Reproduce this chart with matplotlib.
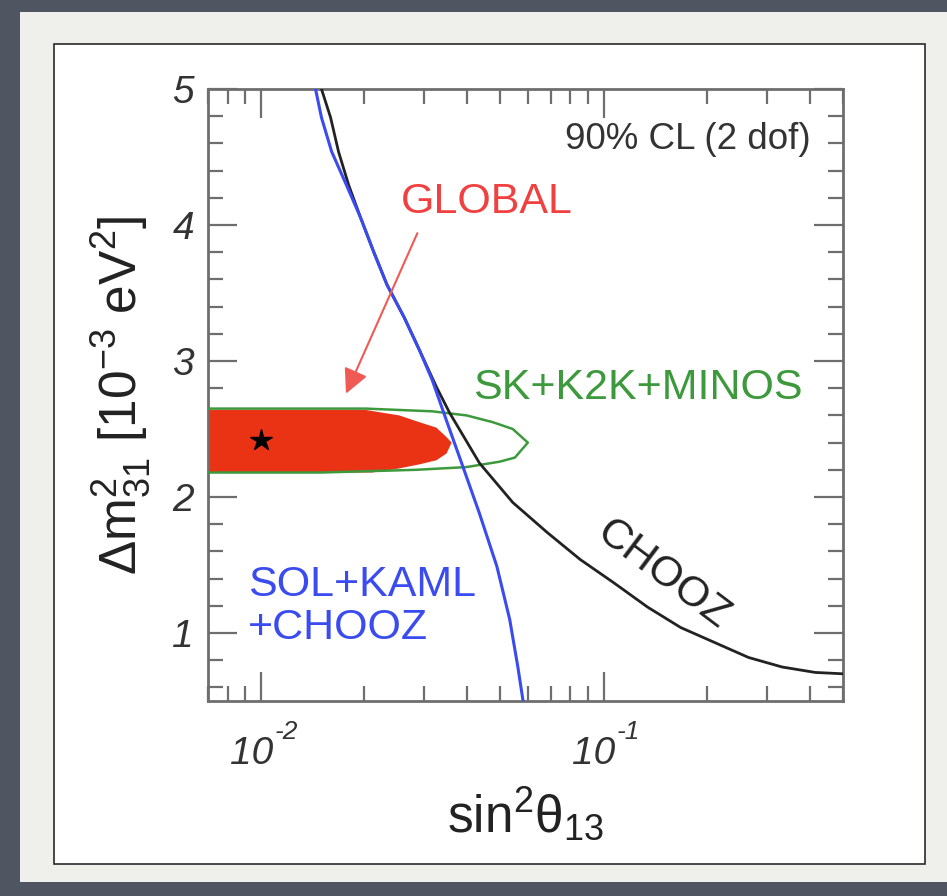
import matplotlib
matplotlib.use('Agg')
import matplotlib.pyplot as plt
from matplotlib.patches import Rectangle
from matplotlib.ticker import FixedLocator, MultipleLocator, LogLocator, NullFormatter
import numpy as np

plt.rcParams['font.family'] = ['Liberation Sans', 'DejaVu Sans']
plt.rcParams['mathtext.fontset'] = 'custom'
plt.rcParams['mathtext.rm'] = 'Liberation Sans'
plt.rcParams['mathtext.it'] = 'Liberation Sans:italic'
plt.rcParams['mathtext.bf'] = 'Liberation Sans:bold'

# --- data ---
# CHOOZ exclusion curve
chooz_x = [0.01501, 0.01596, 0.01683, 0.01804, 0.01955, 0.02134, 0.02332, 0.02618, 0.0290, 0.0325, 0.0355,
           0.0434, 0.0543, 0.0684, 0.0855, 0.107, 0.1345, 0.168, 0.211, 0.265, 0.332, 0.415, 0.500]
chooz_y = [5.00, 4.79, 4.54, 4.29, 4.05, 3.80, 3.56, 3.32, 3.08, 2.81, 2.62,
           2.25, 1.96, 1.74, 1.54, 1.37, 1.19, 1.04, 0.93, 0.82, 0.75, 0.71, 0.70]

# SOL+KAML+CHOOZ curve
solkaml_x = [0.01442, 0.01501, 0.01607, 0.01778, 0.01955, 0.02134, 0.02332, 0.02618, 0.0290, 0.0316,
             0.0348, 0.0385, 0.0434, 0.0488, 0.0532, 0.0562, 0.0582]
solkaml_y = [5.00, 4.79, 4.54, 4.29, 4.05, 3.80, 3.56, 3.32, 3.08, 2.86,
             2.56, 2.25, 1.88, 1.49, 1.10, 0.75, 0.50]

# SK+K2K+MINOS closed contour
atm_x = [0.007, 0.0202, 0.0316, 0.0398, 0.0475, 0.0543, 0.0601, 0.0551, 0.0498, 0.0398, 0.0284, 0.015, 0.007]
atm_y = [2.65, 2.65, 2.63, 2.60, 2.55, 2.50, 2.40, 2.29, 2.26, 2.22, 2.20, 2.18, 2.18]

# GLOBAL filled region
glob_x = [0.007, 0.0202, 0.0253, 0.0290, 0.0325, 0.0348, 0.0360, 0.0348, 0.0325, 0.0290, 0.0253, 0.0211, 0.007]
glob_y = [2.64, 2.64, 2.60, 2.55, 2.51, 2.44, 2.40, 2.32, 2.27, 2.24, 2.21, 2.18, 2.18]

best_fit_x = [0.0100]
best_fit_y = [2.42]

xticks_major = [0.01, 0.1]
xtick_exps = ['-2', '-1']
yticks_major = [1, 2, 3, 4, 5]

fig = plt.figure(figsize=(9.47, 8.96), dpi=100)
fig.patch.set_facecolor('#4f5561')

# slide mat and white panel
fig.patches.append(Rectangle((20/947, 1-882/896), 927/947, 870/896, transform=fig.transFigure,
                             facecolor='#efefec', edgecolor='none', zorder=-3))
fig.patches.append(Rectangle((54/947, 1-864/896), 871/947, 820/896, transform=fig.transFigure,
                             facecolor='white', edgecolor='#2a2a2a', linewidth=1.2, zorder=-2))

ax = fig.add_axes([208/947, 1-701/896, 635/947, 612/896])
ax.set_facecolor('white')

ax.fill(glob_x, glob_y, color='#ea3214', linewidth=0, zorder=2)
ax.plot(atm_x, atm_y, color='#3c9a3c', linewidth=1.8, zorder=3)
ax.plot(chooz_x, chooz_y, color='#222222', linewidth=2.0, zorder=4)
ax.plot(solkaml_x, solkaml_y, color='#3a4cf0', linewidth=2.2, zorder=5)
ax.plot(best_fit_x, best_fit_y, linestyle='none', marker='*', color='black', markersize=16, zorder=6)

ax.annotate('', xy=(0.0177, 2.76), xytext=(0.0286, 3.94),
            arrowprops=dict(arrowstyle='-|>,head_length=0.5,head_width=0.25', color='#f05a55',
                            lw=1.5, mutation_scale=30, shrinkA=0, shrinkB=0), zorder=6)

ax.set_xscale('log')
ax.set_xlim(0.007, 0.5)
ax.set_ylim(0.5, 5)

ax.xaxis.set_major_locator(FixedLocator(xticks_major))
ax.xaxis.set_major_formatter(NullFormatter())
ax.xaxis.set_minor_locator(LogLocator(base=10, subs=np.arange(2, 10)))
ax.xaxis.set_minor_formatter(NullFormatter())
ax.yaxis.set_major_locator(FixedLocator(yticks_major))
ax.yaxis.set_minor_locator(MultipleLocator(0.2))

tick_col = '#6e6e6e'
ax.tick_params(which='both', direction='in', top=True, right=True, color=tick_col, width=1.6)
ax.tick_params(which='major', length=21)
ax.tick_params(which='minor', length=11)
ax.tick_params(axis='y', which='major', labelsize=28, pad=10, labelcolor='#333333')
for lab in ax.get_yticklabels():
    lab.set_fontstyle('italic')
for sp in ax.spines.values():
    sp.set_color(tick_col)
    sp.set_linewidth(2)

# x tick labels "10^-n" in the italic style of the original
for v, e in zip(xticks_major, xtick_exps):
    base = ax.annotate('10', xy=(v, 0), xycoords=ax.get_xaxis_transform(),
                       xytext=(8.5, -25), textcoords='offset points',
                       ha='right', va='top', fontsize=28, fontstyle='italic', color='#333333')
    ax.annotate(e, xy=(1, 1), xycoords=base, xytext=(1, 11), textcoords='offset points',
                ha='left', va='top', fontsize=19, fontstyle='italic', color='#333333')

ax.set_ylabel(r'$\mathrm{\Delta m}^{2}_{31}$ [10$^{-3}$ eV$^{2}$]', fontsize=37, color='#222222', labelpad=15)
ax.set_xlabel(r'sin$^{2}$θ$_{13}$', fontsize=37, color='#222222', labelpad=58)

ax.text(0.401, 4.63, '90% CL (2 dof)', fontsize=26.5, color='#333333', ha='right', va='center')
ax.text(0.0456, 4.17, 'GLOBAL', fontsize=31, color='#f04040', ha='center', va='center')
ax.text(0.0415, 2.80, 'SK+K2K+MINOS', fontsize=31, color='#3c9a3c', ha='left', va='center')
ax.text(0.00916, 1.35, 'SOL+KAML', fontsize=31, color='#3a4cf0', ha='left', va='center')
ax.text(0.00916, 1.04, '+CHOOZ', fontsize=31, color='#3a4cf0', ha='left', va='center')
ax.text(0.149, 1.43, 'CHOOZ', fontsize=31, color='#222222', ha='center', va='center', rotation=-37)

fig.savefig('out.png', dpi=100, facecolor=fig.get_facecolor())
